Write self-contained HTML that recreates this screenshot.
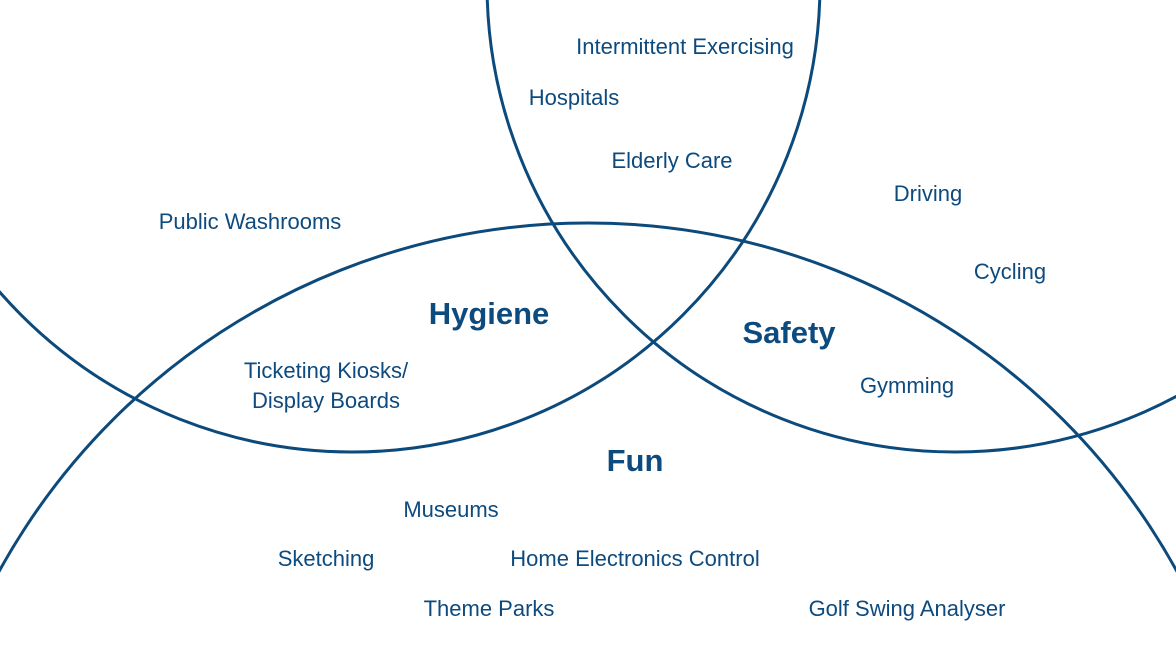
<!DOCTYPE html>
<html>
<head>
<meta charset="utf-8">
<style>
html,body{margin:0;padding:0;background:#fff;width:1176px;height:662px;overflow:hidden;}
svg{display:block;}
text{font-family:"Liberation Sans",sans-serif;fill:#0d4a7e;}
</style>
</head>
<body>
<svg id="chart" width="1176" height="662" viewBox="0 0 1176 662" xmlns="http://www.w3.org/2000/svg"></svg>
<script>
const circleNames = ["hygiene-circle","safety-circle","fun-circle"];
const circleCx = [352, 955, 588];
const circleCy = [-16, -16, 895];
const circleR = [468, 468, 672];

const titleTexts = ["Hygiene","Safety","Fun"];
const titleX = [489, 789, 635];
const titleY = [324, 343, 471];

const itemTexts = ["Intermittent Exercising","Hospitals","Elderly Care","Public Washrooms","Driving","Cycling","Ticketing Kiosks/","Display Boards","Gymming","Museums","Sketching","Home Electronics Control","Theme Parks","Golf Swing Analyser"];
const itemX = [685, 574, 672, 250, 928, 1010, 326, 326, 907, 451, 326, 635, 489, 907];
const itemY = [54, 105, 168, 229, 201, 279, 378, 408, 393, 517, 566, 566, 616, 616];

const svg = document.getElementById('chart');
const NS = "http://www.w3.org/2000/svg";
for (let i = 0; i < circleR.length; i++) {
  const c = document.createElementNS(NS, 'circle');
  c.setAttribute('cx', circleCx[i]);
  c.setAttribute('cy', circleCy[i]);
  c.setAttribute('r', circleR[i]);
  c.setAttribute('fill', 'none');
  c.setAttribute('stroke', '#0c4a7c');
  c.setAttribute('stroke-width', '3');
  
  
  svg.appendChild(c);
}
for (let i = 0; i < titleTexts.length; i++) {
  const t = document.createElementNS(NS, 'text');
  t.setAttribute('x', titleX[i]);
  t.setAttribute('y', titleY[i]);
  t.setAttribute('text-anchor', 'middle');
  t.setAttribute('font-size', '31');
  t.setAttribute('font-weight', 'bold');
  t.textContent = titleTexts[i];
  
  
  svg.appendChild(t);
}
for (let i = 0; i < itemTexts.length; i++) {
  const t = document.createElementNS(NS, 'text');
  t.setAttribute('x', itemX[i]);
  t.setAttribute('y', itemY[i]);
  t.setAttribute('text-anchor', 'middle');
  t.setAttribute('font-size', '22');
  t.textContent = itemTexts[i];
  
  
  svg.appendChild(t);
}
</script>
</body>
</html>
